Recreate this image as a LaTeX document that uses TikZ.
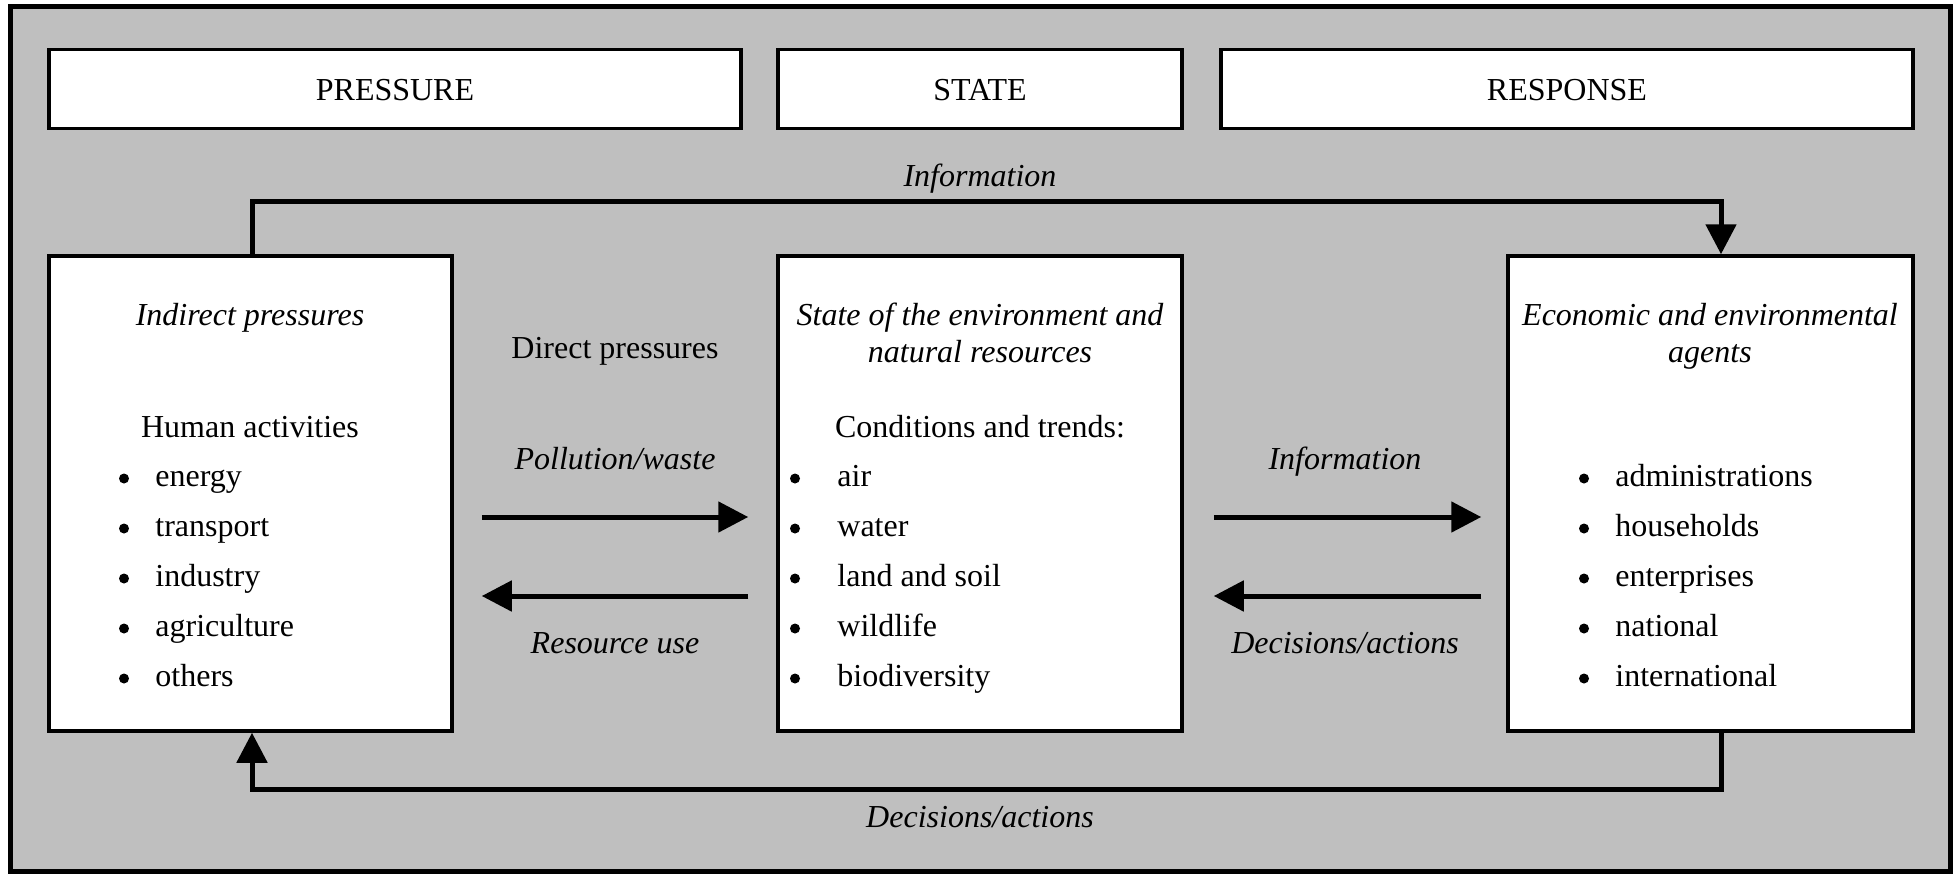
\documentclass[tikz,border=0pt]{standalone}
\usepackage{fontspec}
\setmainfont{Liberation Serif}
\usetikzlibrary{arrows.meta}
\definecolor{bg}{RGB}{191,191,191}
\begin{document}
\begin{tikzpicture}[x=0.5pt,y=-0.5pt,
  every node/.style={font=\fontsize{16}{18.4}\selectfont, inner sep=0pt},
  hdr/.style={draw, fill=white, line width=1.75pt, minimum height=39.5pt, text height=11pt, text depth=0pt},
  panel/.style={draw, fill=white, line width=1.75pt, minimum height=237.5pt},
  conn/.style={line width=2.5pt, -{Triangle[length=15pt,width=15pt]}},
  lbl/.style={anchor=base, font=\fontsize{16}{18.4}\selectfont\itshape},
  txt/.style={anchor=base},
  itm/.style={anchor=base west},
  bul/.style={circle, fill=black, minimum size=5pt}]
\useasboundingbox (0,0) rectangle (1959,874);
% outer frame
\node[draw, line width=2.5pt, fill=bg, minimum width=969.6pt, minimum height=432.2pt] (frame) at (980.4,438.8) {};
% headers
\node[hdr, minimum width=346pt] (pres) at (395,89) {PRESSURE};
\node[hdr, minimum width=202pt] (stat) at (980,89) {STATE};
\node[hdr, minimum width=346pt] (resp) at (1567,89) {RESPONSE};
% panels
\node[panel, minimum width=201.5pt] (lb) at (250.5,493.5) {};
\node[panel, minimum width=202pt] (mb) at (980,493.5) {};
\node[panel, minimum width=202.5pt] (rb) at (1710.5,493.5) {};
% left panel text
\node[lbl] (lbt) at (250,325.5) {Indirect pressures};
\node[txt] (lbh) at (250,437) {Human activities};
\foreach \t [count=\i from 0] in {energy,transport,industry,agriculture,others}{
  \node[bul] (lbb\i) at (124,{478.5+50*\i}) {};
  \node[itm] (lbi\i) at (155,{486.5+50*\i}) {\t};
}
% middle panel text
\node[lbl] (mbt1) at (980,325.5) {State of the environment and};
\node[lbl] (mbt2) at (980,362.5) {natural resources};
\node[txt] (mbh) at (980,437) {Conditions and trends:};
\foreach \t [count=\i from 0] in {air,water,land and soil,wildlife,biodiversity}{
  \node[bul] (mbb\i) at (795,{478.5+50*\i}) {};
  \node[itm] (mbi\i) at (837,{486.5+50*\i}) {\t};
}
% right panel text
\node[lbl] (rbt1) at (1710,325.5) {Economic and environmental};
\node[lbl] (rbt2) at (1710,362.5) {agents};
\foreach \t [count=\i from 0] in {administrations,households,enterprises,national,international}{
  \node[bul] (rbb\i) at (1584,{478.5+50*\i}) {};
  \node[itm] (rbi\i) at (1615,{486.5+50*\i}) {\t};
}
% labels between panels
\node[txt] (dp) at (615,358) {Direct pressures};
\node[lbl] (pw) at (615,469.5) {Pollution/waste};
\node[lbl] (ru) at (615,653.5) {Resource use};
\node[lbl] (inf2) at (1345,469.5) {Information};
\node[lbl] (da2) at (1345,653.5) {Decisions/actions};
\node[lbl] (inf1) at (980,186) {Information};
\node[lbl] (da1) at (980,827.5) {Decisions/actions};
% helper coordinates
\coordinate (xL) at (252,0);
\coordinate (xR) at (1721,0);
\coordinate (yT) at (0,201);
\coordinate (yB) at (0,789);
\coordinate (yU) at (0,517);
\coordinate (yD) at (0,596);
% connectors
\draw[conn] (lb.north -| xL) |- (yT -| xR) -- (rb.north -| xR);
\draw[conn] (rb.south -| xR) |- (yB -| xL) -- (lb.south -| xL);
\draw[conn, shorten <=14pt, shorten >=14pt] (lb.east |- yU) -- (mb.west |- yU);
\draw[conn, shorten <=14pt, shorten >=14pt] (mb.west |- yD) -- (lb.east |- yD);
\draw[conn, shorten <=15pt, shorten >=12.5pt] (mb.east |- yU) -- (rb.west |- yU);
\draw[conn, shorten <=12.5pt, shorten >=15pt] (rb.west |- yD) -- (mb.east |- yD);
\end{tikzpicture}
\end{document}
